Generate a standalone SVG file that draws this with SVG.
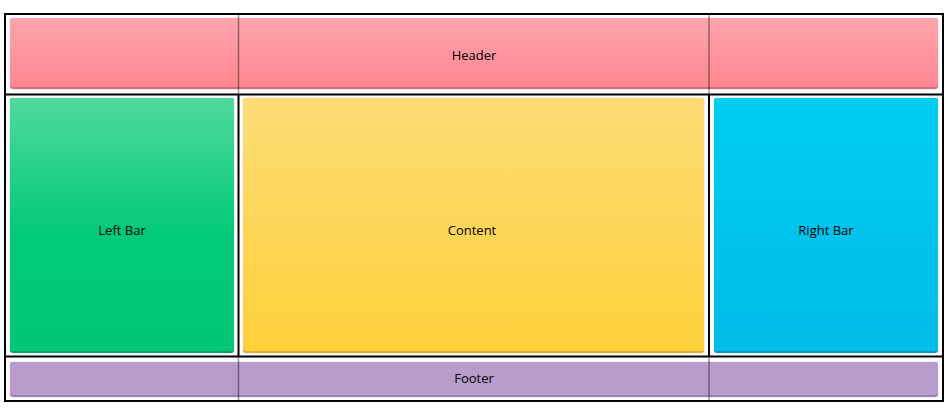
<svg xmlns="http://www.w3.org/2000/svg" width="950" height="417" viewBox="0 0 950 417">
<defs>
<linearGradient id="gH" x1="0" y1="0" x2="0" y2="1"><stop offset="0" stop-color="#ffa4ad"/><stop offset="1" stop-color="#ff8790"/></linearGradient>
<linearGradient id="gL" x1="0" y1="0" x2="0" y2="1"><stop offset="0" stop-color="#4fda9a"/><stop offset="0.55" stop-color="#00c978"/><stop offset="1" stop-color="#00c874"/></linearGradient>
<linearGradient id="gC" x1="0" y1="0" x2="0" y2="1"><stop offset="0" stop-color="#fddc76"/><stop offset="1" stop-color="#fed13a"/></linearGradient>
<linearGradient id="gR" x1="0" y1="0" x2="0" y2="1"><stop offset="0" stop-color="#00cdf0"/><stop offset="1" stop-color="#00bce8"/></linearGradient>
</defs>
<style>
.grid{stroke:#000;stroke-width:2;fill:none}
.ov{stroke:#000;stroke-opacity:0.4;stroke-width:1.5}
text{font-family:"Open Sans","Noto Sans","Liberation Sans",sans-serif;font-size:13px;fill:#000;text-anchor:middle;dominant-baseline:central}
</style>
<g id="grid">
<rect class="grid" x="5" y="14" width="938" height="387"/>
<line class="grid" x1="5" y1="94.5" x2="943" y2="94.5"/>
<line class="grid" x1="5" y1="356.5" x2="943" y2="356.5"/>
<line class="grid" x1="238.5" y1="94" x2="238.5" y2="357"/>
<line class="grid" x1="709" y1="94" x2="709" y2="357"/>
</g>
<g id="header">
<rect x="9.5" y="17.5" width="929" height="72" rx="4" fill="#f0dcf8"/>
<rect x="10" y="18" width="928" height="71" rx="3" fill="#d97079"/>
<rect x="10" y="18" width="928" height="69" rx="3" fill="url(#gH)"/>
<text x="474" y="55">Header</text>
</g>
<g id="leftbar">
<rect x="9.5" y="97.5" width="225" height="256" rx="4" fill="#f0dcf8"/>
<rect x="10" y="98" width="224" height="255" rx="3" fill="#00a862"/>
<rect x="10" y="98" width="224" height="253" rx="3" fill="url(#gL)"/>
<text x="122" y="230">Left Bar</text>
</g>
<g id="content">
<rect x="242.5" y="97.5" width="462" height="256" rx="4" fill="#f0dcf8"/>
<rect x="243" y="98" width="461" height="255" rx="3" fill="#e0b030"/>
<rect x="243" y="98" width="461" height="253" rx="3" fill="url(#gC)"/>
<text x="472" y="230">Content</text>
</g>
<g id="rightbar">
<rect x="713.5" y="97.5" width="225" height="256" rx="4" fill="#f0dcf8"/>
<rect x="714" y="98" width="224" height="255" rx="3" fill="#009dc4"/>
<rect x="714" y="98" width="224" height="253" rx="3" fill="url(#gR)"/>
<text x="826" y="230">Right Bar</text>
</g>
<g id="footer">
<rect x="9.5" y="361.5" width="929" height="36" rx="4" fill="#f0dcf8"/>
<rect x="10" y="362" width="928" height="35" rx="3" fill="#9a82a9"/>
<rect x="10" y="362" width="928" height="33" rx="3" fill="#b89ccb"/>
<text x="474" y="378">Footer</text>
</g>
<g id="overlay">
<line class="ov" x1="238.5" y1="15" x2="238.5" y2="94"/>
<line class="ov" x1="709" y1="15" x2="709" y2="94"/>
<line class="ov" x1="238.5" y1="357" x2="238.5" y2="400"/>
<line class="ov" x1="709" y1="357" x2="709" y2="400"/>
</g>
</svg>
